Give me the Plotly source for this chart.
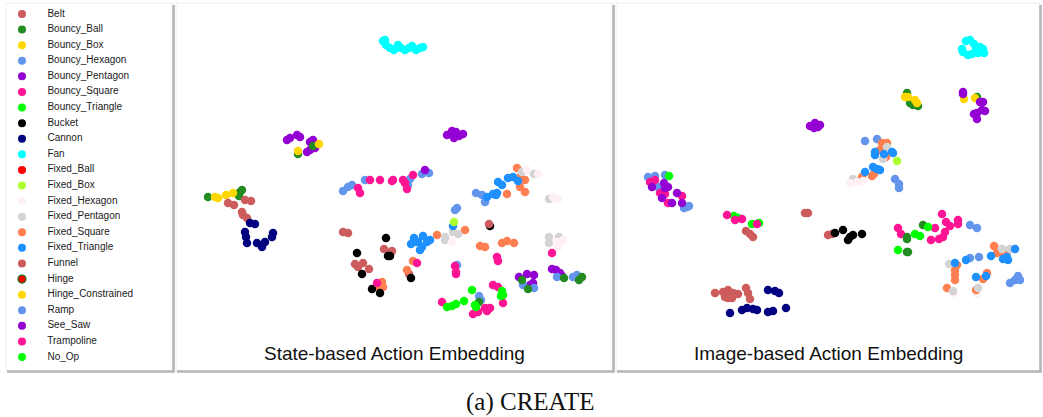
import plotly.graph_objects as go

W, H = 1043, 417

categories = ["Belt", "Bouncy_Ball", "Bouncy_Box", "Bouncy_Hexagon", "Bouncy_Pentagon",
              "Bouncy_Square", "Bouncy_Triangle", "Bucket", "Cannon", "Fan", "Fixed_Ball",
              "Fixed_Box", "Fixed_Hexagon", "Fixed_Pentagon", "Fixed_Square", "Fixed_Triangle",
              "Funnel", "Hinge", "Hinge_Constrained", "Ramp", "See_Saw", "Trampoline", "No_Op"]
colors = ["#CD5C5C", "#228B22", "#FFD700", "#6495ED", "#9400D3", "#FF1493", "#00FF00",
          "#000000", "#000080", "#00FFFF", "#FF0000", "#ADFF2F", "#FFF0F5", "#D3D3D3",
          "#FF7F50", "#1E90FF", "#CD5C5C", "#FF0000", "#FFD700", "#6495ED", "#9400D3",
          "#FF1493", "#00FF00"]

# ---- State-based embedding (t-SNE coordinates) ----
state_pts = [
    ("Fan", [(383,41),(386,45),(390,48),(394,50),(398,45),(401,48),(405,50),(409,48),(412,46),(416,50),(420,48),(423,47),(385,40)]),
    ("Bouncy_Pentagon", [(287,140),(290,138),(297,135),(300,137),(310,142),(313,140),(315,148),(310,150),(307,152),
                         (447,135),(452,131),(456,132),(459,136),(463,134),(454,138)]),
    ("Bouncy_Ball", [(298,154),(313,146),(208,197),(240,192),(242,190),(239,196)]),
    ("Bouncy_Box", [(298,151),(319,144),(215,197),(218,198),(226,195),(233,193)]),
    ("Belt", [(228,203),(234,205),(245,200),(251,201),(242,212),(243,215),(247,218),
              (343,232),(348,233),(384,249),(391,252),(355,264),(358,267),(363,263),(369,269),(392,251),(409,274)]),
    ("Cannon", [(250,223),(255,224),(245,232),(246,237),(247,243),(257,243),(262,247),(265,242),(272,237),(273,233)]),
    ("Bouncy_Hexagon", [(343,191),(348,187),(352,185),(365,180),(408,185),(410,179),(422,174),(429,173),
                        (476,193),(482,195),(485,202),(455,210),(457,208)]),
    ("Bouncy_Square", [(358,188),(360,193),(370,180),(380,180),(392,181),(403,180),(405,183),(413,175),(407,189),(393,180)]),
    ("See_Saw", [(425,170),(519,277),(527,274),(534,275),(530,285),(533,283),(552,269),(556,270),(560,273),(562,276)]),
    ("Fixed_Square", [(517,168),(520,177),(525,180),(520,187),(525,192),(507,194),(465,230),(437,235),
                      (480,246),(485,247),(502,243),(507,241),(514,243),(382,282),(383,287),(380,288),(413,261),(407,270)]),
    ("Fixed_Pentagon", [(522,172),(534,174),(549,199),(453,232),(458,234),(445,237),(445,240),(549,237),(549,243),(559,237)]),
    ("Fixed_Hexagon", [(527,170),(538,174),(553,197),(558,199),(452,242),(557,242),(563,240),(558,247)]),
    ("Fixed_Triangle", [(498,182),(502,185),(508,178),(513,177),(518,181),(493,194),(497,193),(487,197),(496,195),
                        (453,226),(411,244),(414,238),(418,242),(423,236),(422,247),(420,250),(427,242),(430,240),(417,242)]),
    ("Fixed_Box", [(454,222)]),
    ("Bucket", [(490,226),(386,238),(388,256),(357,253),(362,274),(372,289),(380,293),(390,256),(411,278)]),
    ("Funnel", [(489,224)]),
    ("Ramp", [(457,265),(523,285),(534,288),(557,277),(573,277),(577,275),(479,296),(481,300)]),
    ("Trampoline", [(377,283),(417,263),(455,266),(456,272),(456,274),(552,253),(497,257),(498,261),
                    (442,302),(493,285),(498,287),(503,303),(473,314),(478,312),(485,308),(487,311),(490,308)]),
    ("Bouncy_Ball", [(522,280),(528,289),(564,278),(579,280),(582,277),(479,302)]),
    ("No_Op", [(472,290),(502,291),(503,295),(501,296),(447,307),(452,306),(456,304),(464,301),(475,305),(476,307)]),
]

# ---- Image-based embedding ----
image_pts = [
    ("Fan", [(962,49),(966,41),(970,40),(974,44),(976,50),(980,47),(984,53),(968,55),(972,54),(978,53),(963,52),(983,49)]),
    ("Bouncy_Ball", [(907,93),(910,103),(918,106),(913,105),(977,97)]),
    ("Bouncy_Box", [(905,97),(908,97),(915,100),(917,103),(964,99),(975,98)]),
    ("Bouncy_Pentagon", [(963,92),(963,94),(980,102),(983,102),(977,113),(982,110),(985,111),(977,119),(974,114),
                         (810,126),(815,123),(820,125),(814,128),(818,127)]),
    ("Bouncy_Hexagon", [(865,141),(877,139),(895,179),(899,184),(899,188)]),
    ("Fixed_Square", [(882,143),(887,143),(880,150),(886,157),(862,177),(872,176),(874,174)]),
    ("Fixed_Pentagon", [(887,147),(883,159),(853,179)]),
    ("Fixed_Hexagon", [(850,183),(857,182),(863,181)]),
    ("Fixed_Triangle", [(875,152),(875,155),(884,154),(892,152),(893,153),(873,167),(877,169),(880,170),(865,172)]),
    ("Fixed_Box", [(897,161)]),
    ("Ramp", [(648,177),(655,176),(665,175),(658,187),(687,207),(684,208),(689,206)]),
    ("Bouncy_Square", [(650,182),(655,180),(660,193),(665,194),(668,203),(682,196)]),
    ("See_Saw", [(652,187),(664,183),(665,188),(668,187),(662,198),(677,193),(672,203),(682,203)]),
    ("No_Op", [(669,176),(734,216),(738,218),(752,224),(759,223)]),
    ("Trampoline", [(727,215),(735,220),(742,219),(757,224)]),
    ("Belt", [(746,231),(750,234),(753,237),(805,213),(808,213),(828,235),(832,234)]),
    ("Bucket", [(835,233),(843,230),(848,240),(853,235),(862,234),(850,237)]),
    ("Bouncy_Square", [(898,228),(901,234),(942,214),(946,222),(950,226),(958,220),(958,224),(935,228),
                       (945,232),(943,237),(939,239),(931,240)]),
    ("Bouncy_Ball", [(907,237),(907,239),(923,225),(907,252),(908,252)]),
    ("Bouncy_Triangle", [(915,234),(920,236),(928,227),(898,250)]),
    ("Ramp", [(970,225),(977,228),(970,258),(979,257),(1010,283),(1015,280),(1018,276),(1020,280)]),
    ("Fixed_Hexagon", [(998,247),(954,293),(977,294)]),
    ("Fixed_Square", [(994,246),(997,253),(1002,252),(1007,251),(957,265),(955,270),(955,275),(955,280),
                      (947,288),(983,279),(987,273),(976,290)]),
    ("Fixed_Pentagon", [(1002,249),(1010,249),(949,264),(953,291),(978,288)]),
    ("Fixed_Triangle", [(1015,249),(991,256),(1003,259),(1008,260),(1007,257),(966,260),(955,263),(976,277),(986,276)]),
    ("Funnel", [(715,293),(723,292),(725,297),(728,290),(730,294),(733,293),(738,294),(728,298),(732,298),
                (746,288),(748,293),(750,299)]),
    ("Cannon", [(768,290),(775,291),(779,293),(730,313),(742,310),(747,308),(753,309),(757,310),(768,312),
                (773,311),(786,308)]),
]

panel_titles = ["State-based Action Embedding", "Image-based Action Embedding"]
caption = "(a) CREATE"

# panel frames in pixel units
legend_box = (6, 3, 173, 371)
panel1 = (176, 3, 613, 371)
panel2 = (616, 3, 1040, 371)

color_of = dict(zip(categories, colors))

fig = go.Figure()

def add_panel(pts, xa, ya):
    for cat, p in pts:
        if not p:
            continue
        fig.add_trace(go.Scatter(
            x=[a for a, b in p], y=[b for a, b in p], mode="markers",
            marker=dict(size=8.5, color=color_of[cat], line=dict(width=0)),
            xaxis=xa, yaxis=ya, showlegend=False, hoverinfo="skip", name=cat))

add_panel(state_pts, "x2", "y2")
add_panel(image_pts, "x3", "y3")

# legend panel (built as a scatter from the categories list)
n = len(categories)
leg_y = list(range(n))
line_cols = ["#1b6b1b" if c == "Hinge" else col for c, col in zip(categories, colors)]
fig.add_trace(go.Scatter(
    x=[0] * n, y=leg_y, mode="markers+text", text=["       " + c for c in categories],
    textposition="middle right",
    textfont=dict(family="Liberation Sans, Arial", size=10, color="#1a1a1a"),
    marker=dict(size=8, color=colors, line=dict(width=[1.2 if c == "Hinge" else 0 for c in categories],
                                                color=line_cols)),
    xaxis="x", yaxis="y", showlegend=False, hoverinfo="skip"))

def dom(box):
    x0, y0, x1, y1 = box
    return [x0 / W, x1 / W], [1 - y1 / H, 1 - y0 / H]

lx, ly = dom(legend_box)
p1x, p1y = dom(panel1)
p2x, p2y = dom(panel2)

ax_common = dict(visible=False, showgrid=False, zeroline=False, fixedrange=True)
leg_top, leg_bot = 14, 357
step = (leg_bot - leg_top) / (n - 1)
ly_range = [n - 1 + (legend_box[3] - leg_bot) / step, -(leg_top - legend_box[1]) / step]
lx_range = [-(22 - legend_box[0]) / 2.0, (legend_box[2] - 22) / 2.0]

fig.update_layout(
    width=W, height=H, margin=dict(l=0, r=0, t=0, b=0),
    paper_bgcolor="white", plot_bgcolor="rgba(0,0,0,0)",
    xaxis=dict(domain=lx, range=lx_range, **ax_common),
    yaxis=dict(domain=ly, range=ly_range, **ax_common),
    xaxis2=dict(domain=p1x, range=[panel1[0], panel1[2]], **ax_common),
    yaxis2=dict(domain=p1y, range=[panel1[3], panel1[1]], **ax_common),
    xaxis3=dict(domain=p2x, range=[panel2[0], panel2[2]], **ax_common),
    yaxis3=dict(domain=p2y, range=[panel2[3], panel2[1]], **ax_common),
)

shapes = []
for (x0, y0, x1, y1) in [legend_box, panel1, panel2]:
    shapes.append(dict(type="line", xref="paper", yref="paper", x0=(x1 + 0.5) / W, x1=(x1 + 0.5) / W,
                       y0=1 - (y1 + 1.5) / H, y1=1 - (y0 + 2) / H, line=dict(color="#b5b5b5", width=2.5)))
    shapes.append(dict(type="line", xref="paper", yref="paper", x0=(x0 + 1) / W, x1=(x1 + 1.5) / W,
                       y0=1 - (y1 + 0.5) / H, y1=1 - (y1 + 0.5) / H, line=dict(color="#b5b5b5", width=2.5)))
    shapes.append(dict(type="rect", xref="paper", yref="paper", x0=x0 / W, x1=x1 / W,
                       y0=1 - y1 / H, y1=1 - y0 / H, line=dict(color="#ececec", width=1), layer="below"))
fig.update_layout(shapes=shapes)

annos = []
for title, box in zip(panel_titles, [panel1, panel2]):
    annos.append(dict(text=title, x=(box[0] + box[2]) / 2 / W, y=1 - 353 / H, xref="paper", yref="paper",
                      showarrow=False, xanchor="center", yanchor="middle",
                      font=dict(family="Liberation Sans, Arial", size=19, color="#111")))
annos.append(dict(text=caption, x=530 / W, y=1 - 402 / H, xref="paper", yref="paper", showarrow=False,
                  xanchor="center", yanchor="middle",
                  font=dict(family="Liberation Serif, Times New Roman", size=25, color="#111")))
fig.update_layout(annotations=annos)

fig.write_html("out.html", config={"displayModeBar": False},
               post_script="document.body.style.margin='0px';document.body.style.overflow='hidden';")
